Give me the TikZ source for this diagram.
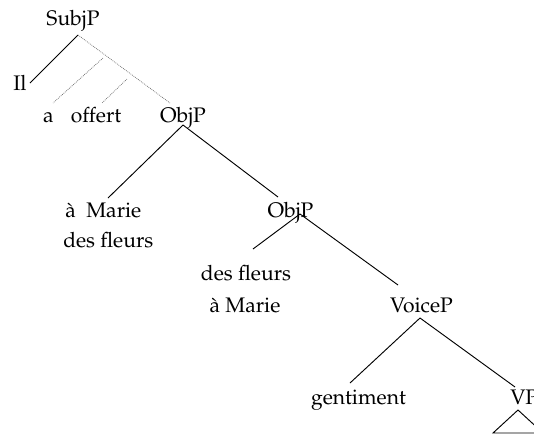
\documentclass[tikz,border=0pt]{standalone}
\usepackage[T1]{fontenc}
\usepackage{mathpazo}
\usetikzlibrary{positioning}
\newcommand{\branch}[2]{\draw[edge] (#1) -- (#2);}
\newcommand{\dotbranch}[2]{\draw[dotedge] (#1) -- (#2);}

\begin{document}
\begin{tikzpicture}[x=0.75pt,y=-0.75pt,
    lbl/.style={inner sep=0pt,anchor=base,font=\fontsize{15.8}{18}\selectfont},
    edge/.style={line width=0.7pt},
    dotedge/.style={line width=0.5pt,black!60,dash pattern=on 0.6pt off 0.8pt}]
  \useasboundingbox (0,0) rectangle (534,436);
  \clip (0,0) rectangle (534,436);
  % labels
  \node[lbl] (subj) at (73,25) {SubjP};
  \node[lbl] (il) at (20,90) {Il};
  \node[lbl] (a) at (48.5,122) {a};
  \node[lbl] (offert) at (96,122) {offert};
  \node[lbl] (obj1) at (183,122) {ObjP};
  \node[lbl,anchor=base west] (mar1) at (65,217) {\`a\ \ Marie};
  \node[lbl,anchor=base west] (fl1) at (63,247) {des fleurs};
  \node[lbl] (obj2) at (290.5,217) {ObjP};
  \node[lbl] (fl2) at (246,280) {des fleurs};
  \node[lbl] (mar2) at (245,312) {\`a Marie};
  \node[lbl] (voice) at (421.5,312) {VoiceP};
  \node[lbl] (gent) at (358.5,404) {gentiment};
  \node[lbl,anchor=base west] (vp) at (510,404) {VP};
  % branch points
  \coordinate (subj-f) at (78,35);
  \coordinate (il-e) at (30,83);
  \coordinate (obj1-t) at (170,103);
  \coordinate (d1) at (103,58);
  \coordinate (a-t) at (53,103);
  \coordinate (d2) at (127,79);
  \coordinate (offert-t) at (102,103);
  \coordinate (obj1-f) at (183,125);
  \coordinate (mar1-t) at (108,198);
  \coordinate (obj2-t) at (278,197);
  \coordinate (obj2-f) at (300,214);
  \coordinate (fl2-t) at (253,249);
  \coordinate (voice-t) at (398,285);
  \coordinate (voice-f) at (420,318);
  \coordinate (gent-t) at (350,383);
  \coordinate (vp-t) at (515,387);
  % tree
  \branch{subj-f}{il-e}
  \dotbranch{subj-f}{obj1-t}
  \dotbranch{d1}{a-t}
  \dotbranch{d2}{offert-t}
  \branch{obj1-f}{mar1-t}
  \branch{obj1-f}{obj2-t}
  \branch{obj2-f}{fl2-t}
  \branch{obj2-f}{voice-t}
  \branch{voice-f}{gent-t}
  \branch{voice-f}{vp-t}
  \draw[edge] (518,410) -- (493,433) -- (543,433) -- cycle;
\end{tikzpicture}
\end{document}
